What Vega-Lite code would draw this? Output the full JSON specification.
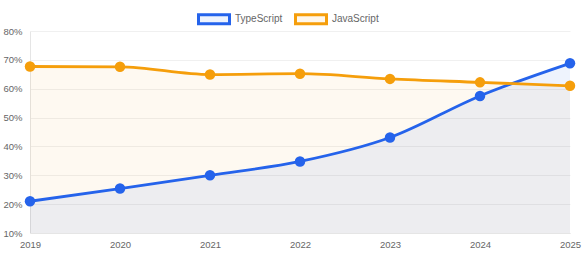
{
  "$schema": "https://vega.github.io/schema/vega-lite/v6.json",
  "width": 540,
  "height": 202,
  "autosize": {"type": "none"},
  "padding": {"left": 30, "top": 31, "right": 13, "bottom": 23},
  "background": "#ffffff",
  "config": {
    "view": {"stroke": null},
    "font": "Liberation Sans",
    "axis": {"labelColor": "#666666", "labelFont": "Liberation Sans", "labelFontSize": 9.5, "ticks": false}
  },
  "data": {
    "values": [
      {"year": "2019", "lang": "TypeScript", "value": 21.0},
      {"year": "2020", "lang": "TypeScript", "value": 25.4},
      {"year": "2021", "lang": "TypeScript", "value": 30.0},
      {"year": "2022", "lang": "TypeScript", "value": 34.8},
      {"year": "2023", "lang": "TypeScript", "value": 43.1},
      {"year": "2024", "lang": "TypeScript", "value": 57.5},
      {"year": "2025", "lang": "TypeScript", "value": 68.8},
      {"year": "2019", "lang": "JavaScript", "value": 67.7},
      {"year": "2020", "lang": "JavaScript", "value": 67.6},
      {"year": "2021", "lang": "JavaScript", "value": 64.9},
      {"year": "2022", "lang": "JavaScript", "value": 65.2},
      {"year": "2023", "lang": "JavaScript", "value": 63.4},
      {"year": "2024", "lang": "JavaScript", "value": 62.2},
      {"year": "2025", "lang": "JavaScript", "value": 61.0}
    ]
  },
  "encoding": {
    "x": {
      "field": "year", "type": "ordinal",
      "scale": {"type": "point", "padding": 0},
      "axis": {"title": null, "labelAngle": 0, "labelPadding": 6, "grid": false, "domainColor": "#e5e5e5", "labelFlush": false}
    },
    "y": {
      "field": "value", "type": "quantitative",
      "scale": {"domain": [10, 80], "nice": false, "zero": false},
      "axis": {
        "title": null, "values": [10, 20, 30, 40, 50, 60, 70, 80],
        "labelExpr": "datum.value + '%'", "labelPadding": 8,
        "gridColor": "#f0f0f0", "domainColor": "#e5e5e5"
      }
    }
  },
  "layer": [
    {
      "transform": [{"filter": "datum.lang === 'JavaScript'"}],
      "mark": {"type": "area", "interpolate": "monotone", "color": "#f59e0b", "opacity": 0.06},
      "encoding": {"y2": {"datum": 10}}
    },
    {
      "transform": [{"filter": "datum.lang === 'TypeScript'"}],
      "mark": {"type": "area", "interpolate": "monotone", "color": "#2563eb", "opacity": 0.08},
      "encoding": {"y2": {"datum": 10}}
    },
    {
      "mark": {"type": "line", "interpolate": "monotone", "strokeWidth": 2.8},
      "encoding": {
        "color": {
          "field": "lang", "type": "nominal",
          "scale": {"domain": ["TypeScript", "JavaScript"], "range": ["#2563eb", "#f59e0b"]},
          "legend": {
            "title": null, "orient": "none", "direction": "horizontal",
            "legendX": 167, "legendY": -29,
            "symbolType": "M-1,-0.29H1V0.29H-1Z", "symbolSize": 961,
            "symbolStrokeWidth": 3, "labelFontSize": 10, "labelColor": "#666666",
            "labelOffset": 4, "columnPadding": 6,
            "encode": {"symbols": {"update": {"fill": {"scale": "color", "field": "value"}, "fillOpacity": {"value": 0.08}}}}
          }
        }
      }
    },
    {
      "mark": {"type": "point", "filled": true, "size": 110, "opacity": 1},
      "encoding": {"color": {"field": "lang", "type": "nominal", "legend": null}}
    }
  ]
}
